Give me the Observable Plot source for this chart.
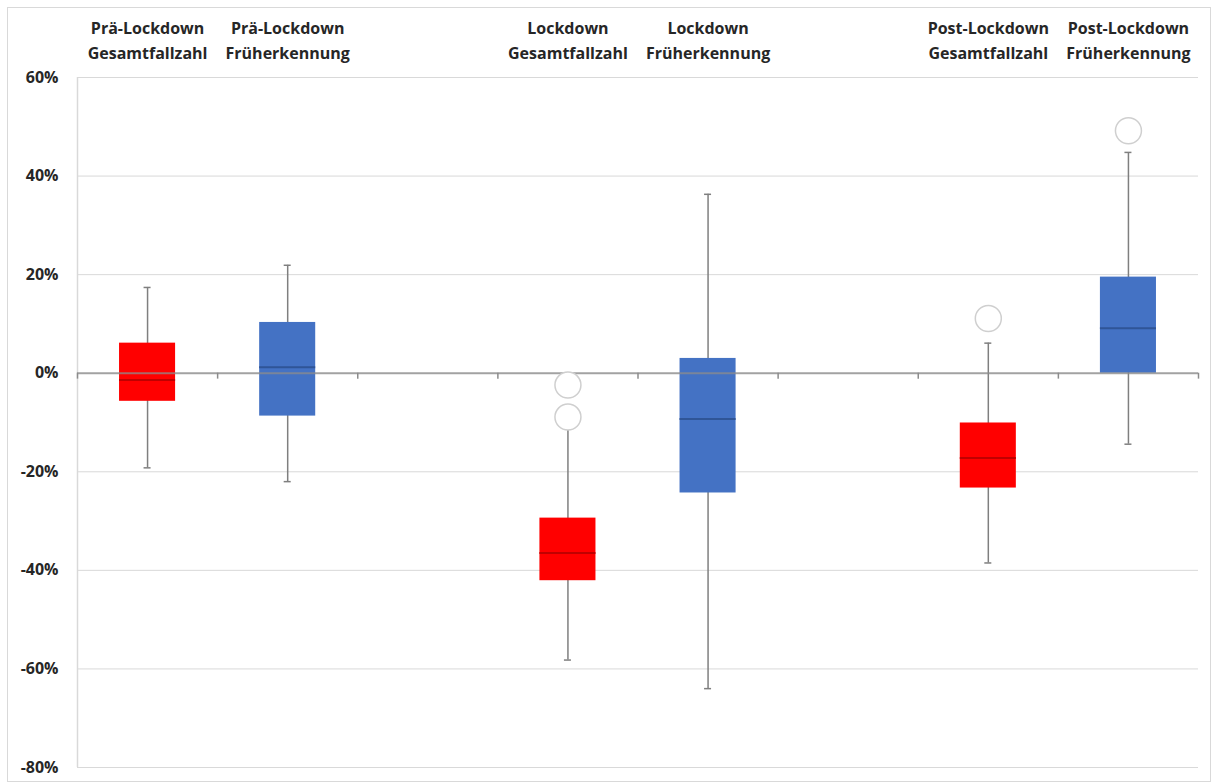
<!DOCTYPE html>
<html><head><meta charset="utf-8">
<script src="https://cdn.jsdelivr.net/npm/d3@7"></script>
<script src="https://cdn.jsdelivr.net/npm/@observablehq/plot@0.6"></script>
<style>
html,body{margin:0;padding:0;background:#fff;}
#wrap{position:relative;width:1213px;height:783px;}
#frame{position:absolute;left:7px;top:7px;width:1202px;height:773px;border:1px solid #d9d9d9;pointer-events:none;}
#chart{position:absolute;left:0;top:0;}
</style></head><body><div id="wrap"><div id="chart"></div><div id="frame"></div></div>
<script>
// Slots along the x axis (null = empty slot)
const slots = ["Prä-Lockdown\nGesamtfallzahl", "Prä-Lockdown\nFrüherkennung", null,
  "Lockdown\nGesamtfallzahl", "Lockdown\nFrüherkennung", null,
  "Post-Lockdown\nGesamtfallzahl", "Post-Lockdown\nFrüherkennung"];
const measures = ["Gesamtfallzahl", "Früherkennung", "Gesamtfallzahl", "Früherkennung", "Gesamtfallzahl", "Früherkennung"];
const whiskerLow  = [-19.2, -22.0, -58.2, -64.0, -38.5, -14.4];
const q1          = [-5.7, -8.7, -42.1, -24.3, -23.3, 0.0];
const median      = [-1.4, 1.2, -36.5, -9.3, -17.2, 9.1];
const q3          = [6.1, 10.3, -29.4, 3.0, -10.1, 19.5];
const whiskerHigh = [17.4, 21.9, -11.3, 36.3, 6.1, 44.8];
const outliers    = [[], [], [-2.4, -8.9], [], [11.1], [49.2]];
const yTicks = [-80, -60, -40, -20, 0, 20, 40, 60];

const boxColor = {"Gesamtfallzahl": "#ff0000", "Früherkennung": "#4472c4"};
const medColor = {"Gesamtfallzahl": "#c00000", "Früherkennung": "#2f5597"};

const rows = [];
let k = 0;
slots.forEach((s, i) => {
  if (s === null) return;
  rows.push({label: s, pos: i + 0.5, measure: measures[k], low: whiskerLow[k], q1: q1[k],
    median: median[k], q3: q3[k], high: whiskerHigh[k], outliers: outliers[k]});
  k++;
});
const caps = rows.flatMap(r => [{pos: r.pos, v: r.low}, {pos: r.pos, v: r.high}]);
const outRows = rows.flatMap(r => r.outliers.map(v => ({pos: r.pos, v})));
const labelAt = new Map(rows.map(r => [r.pos, r.label]));

const kinds = ["Gesamtfallzahl", "Früherkennung"];
const half = 0.2, capHalf = 0.025;

const chart = Plot.plot({
  width: 1213, height: 783,
  marginLeft: 77, marginRight: 15, marginTop: 77, marginBottom: 16,
  style: {fontFamily: "'Open Sans', sans-serif", fontSize: "16px", fontWeight: "bold", color: "#262626", background: "transparent"},
  x: {domain: [0, slots.length]},
  y: {domain: [-80, 60]},
  marks: [
    Plot.ruleY(yTicks, {stroke: "#d9d9d9", strokeWidth: 1}),
    Plot.ruleX([0], {stroke: "#d9d9d9", strokeWidth: 1.5}),
    Plot.axisY({ticks: yTicks, tickFormat: d => d + "%", tickSize: 0, tickPadding: 19, label: null, fontSize: 16, fontWeight: "bold"}),
    Plot.axisX({anchor: "top", ticks: rows.map(r => r.pos), tickFormat: d => labelAt.get(d), tickSize: 0, tickPadding: 19, label: null, lineHeight: 1.55, fontSize: 16, fontWeight: "bold"}),
    Plot.ruleX(rows, {x: "pos", y1: "low", y2: "high", stroke: "#7f7f7f", strokeWidth: 1.5}),
    Plot.ruleY(caps, {x1: d => d.pos - capHalf, x2: d => d.pos + capHalf, y: "v", stroke: "#7f7f7f", strokeWidth: 1.5}),
    ...kinds.map(m => Plot.rect(rows.filter(r => r.measure === m), {x1: d => d.pos - half, x2: d => d.pos + half, y1: "q1", y2: "q3", fill: boxColor[m]})),
    ...kinds.map(m => Plot.ruleY(rows.filter(r => r.measure === m), {x1: d => d.pos - half, x2: d => d.pos + half, y: "median", stroke: medColor[m], strokeWidth: 2})),
    Plot.ruleY([0], {stroke: "#8c8c8c", strokeWidth: 2, strokeOpacity: 0.75}),
    Plot.ruleX(d3.range(0, slots.length + 1), {y1: 0, y2: -1.2, stroke: "#8c8c8c", strokeWidth: 1.5}),
    Plot.dot(outRows, {x: "pos", y: "v", r: 13, stroke: "#cfcfcf", fill: "white", strokeWidth: 1.5})
  ]
});
document.getElementById("chart").appendChild(chart);
</script>
</body></html>
